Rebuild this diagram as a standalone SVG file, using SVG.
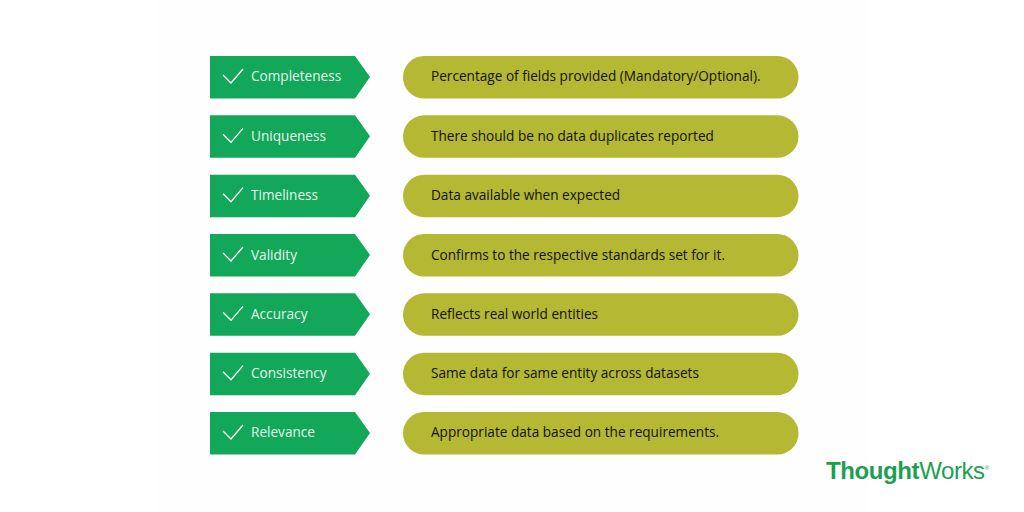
<svg xmlns="http://www.w3.org/2000/svg" width="1024" height="512" viewBox="0 0 1024 512">
<style>
.tag{fill:#12a759}
.pill{fill:#b5b832}
.chk{fill:none;stroke:#fff;stroke-width:1.3}
.t{font-family:"Open Sans",sans-serif;font-size:13.62px}
.w{fill:#e6f6ec}
.k{fill:#12120a}
.logo{font-family:"Liberation Sans",Arial,sans-serif;font-size:24px;fill:#1c9f52;letter-spacing:-0.4px}
</style>
<defs>
<g id="tagShape"><path class="tag" d="M210 56H355L370 77L355 98.500H210Z"/><path class="chk" d="M223 75L231 83L243 69"/></g>
<rect id="pillShape" class="pill" x="403" y="56" width="395.500" height="42.500" rx="21.200"/>
</defs>
<rect width="1024" height="512" fill="#fff"/>
<rect x="157" width="710" height="512" fill="#fefefe"/>
<g id="connectors"/>
<g id="node-completeness"><use href="#tagShape"/><text class="t w" x="251" y="81.300">Completeness</text></g>
<g id="desc-completeness"><use href="#pillShape"/><text class="t k" x="431" y="81.300">Percentage of fields provided (Mandatory/Optional).</text></g>
<g id="node-uniqueness"><use href="#tagShape" y="59.300"/><text class="t w" x="251" y="140.700">Uniqueness</text></g>
<g id="desc-uniqueness"><use href="#pillShape" y="59.300"/><text class="t k" x="431" y="140.700">There should be no data duplicates reported</text></g>
<g id="node-timeliness"><use href="#tagShape" y="118.700"/><text class="t w" x="251" y="200">Timeliness</text></g>
<g id="desc-timeliness"><use href="#pillShape" y="118.700"/><text class="t k" x="431" y="200">Data available when expected</text></g>
<g id="node-validity"><use href="#tagShape" y="178"/><text class="t w" x="251" y="259.600">Validity</text></g>
<g id="desc-validity"><use href="#pillShape" y="178"/><text class="t k" x="431" y="259.600">Confirms to the respective standards set for it.</text></g>
<g id="node-accuracy"><use href="#tagShape" y="237.300"/><text class="t w" x="251" y="318.700">Accuracy</text></g>
<g id="desc-accuracy"><use href="#pillShape" y="237.300"/><text class="t k" x="431" y="318.700">Reflects real world entities</text></g>
<g id="node-consistency"><use href="#tagShape" y="296.700"/><text class="t w" x="251" y="378.200">Consistency</text></g>
<g id="desc-consistency"><use href="#pillShape" y="296.700"/><text class="t k" x="431" y="378.200">Same data for same entity across datasets</text></g>
<g id="node-relevance"><use href="#tagShape" y="356"/><text class="t w" x="251" y="437.400">Relevance</text></g>
<g id="desc-relevance"><use href="#pillShape" y="356"/><text class="t k" x="431" y="437.400">Appropriate data based on the requirements.</text></g>
<text class="logo" x="826" y="478.500"><tspan font-weight="700">Thought</tspan>Works<tspan font-size="6" dy="-9">®</tspan></text>
</svg>
